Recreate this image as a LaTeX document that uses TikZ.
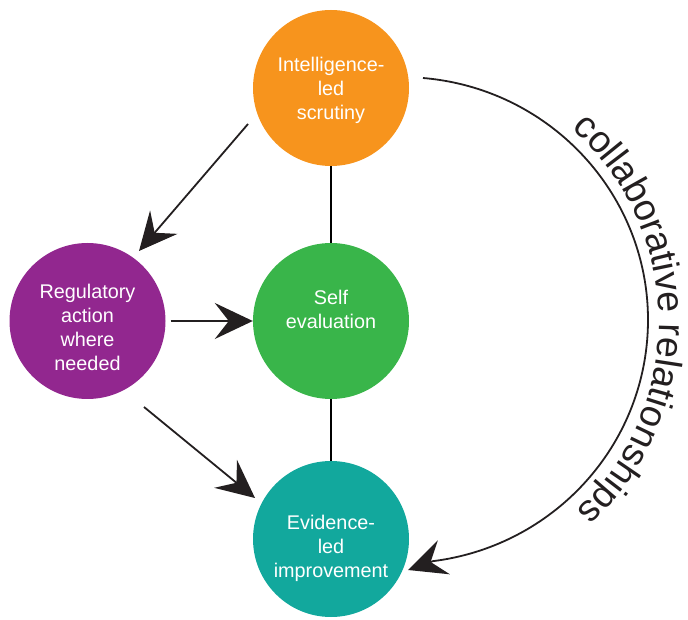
\documentclass[tikz,border=0pt]{standalone}
\usepackage{fontspec}
\setmainfont{Liberation Sans}
\usetikzlibrary{arrows.meta,decorations.text}
\definecolor{cOrange}{HTML}{F7941D}
\definecolor{cPurple}{HTML}{92278F}
\definecolor{cGreen}{HTML}{39B54A}
\definecolor{cTeal}{HTML}{12A89D}
\definecolor{cInk}{HTML}{231F20}
\tikzset{
  x=1pt,y=1pt,
  disc/.style={circle,minimum size=156pt,inner sep=0pt,draw=none},
  lbl/.style={text=white,align=center,font=\fontsize{19.8}{24}\selectfont,inner sep=0pt},
  linkline/.style={draw=black,line width=2.6pt},
  conn/.style={draw=cInk,line width=1.8pt,-{Stealth[length=38pt,width=36pt,inset=14pt,fill=cInk]}},
}
\begin{document}
\begin{tikzpicture}
\useasboundingbox (0,0) rectangle (688,619);
\node[disc,fill=cOrange,label={[lbl,yshift=-2pt]center:Intelligence-\\led\\scrutiny}] (intel) at (331,531) {};
\node[disc,fill=cGreen,label={[lbl,yshift=11.5pt]center:Self\\evaluation}] (self) at (331,298) {};
\node[disc,fill=cTeal,label={[lbl,yshift=-9pt]center:Evidence-\\led\\improvement}] (evid) at (331,80) {};
\node[disc,fill=cPurple,label={[lbl,yshift=-6pt]center:Regulatory\\action\\where\\needed}] (reg) at (87.5,298) {};
\draw[linkline] (intel) -- (self);
\draw[linkline] (self) -- (evid);
\coordinate (a1s) at (248,495);
\coordinate (a1e) at (139,368);
\coordinate (a3s) at (144,212);
\coordinate (a3e) at (255,121);
\coordinate (cs) at (423,541);
\coordinate (ce) at (408,49);
\draw[conn] (a1s) -- (a1e);
\draw[conn,shorten <=5pt] (reg) -- (self);
\draw[conn] (a3s) -- (a3e);
\draw[conn] (cs) arc[start angle=85.1,end angle=-82.76,x radius=246,y radius=243] -- (ce);
\path[decorate,decoration={text along path,
  text={|\fontsize{37.5}{38}\selectfont\color{cInk}|collaborative relationships},
  text align=center}]
  (402,297) ++(59:257) arc[start angle=59,end angle=-57.5,radius=257];
\end{tikzpicture}
\end{document}
